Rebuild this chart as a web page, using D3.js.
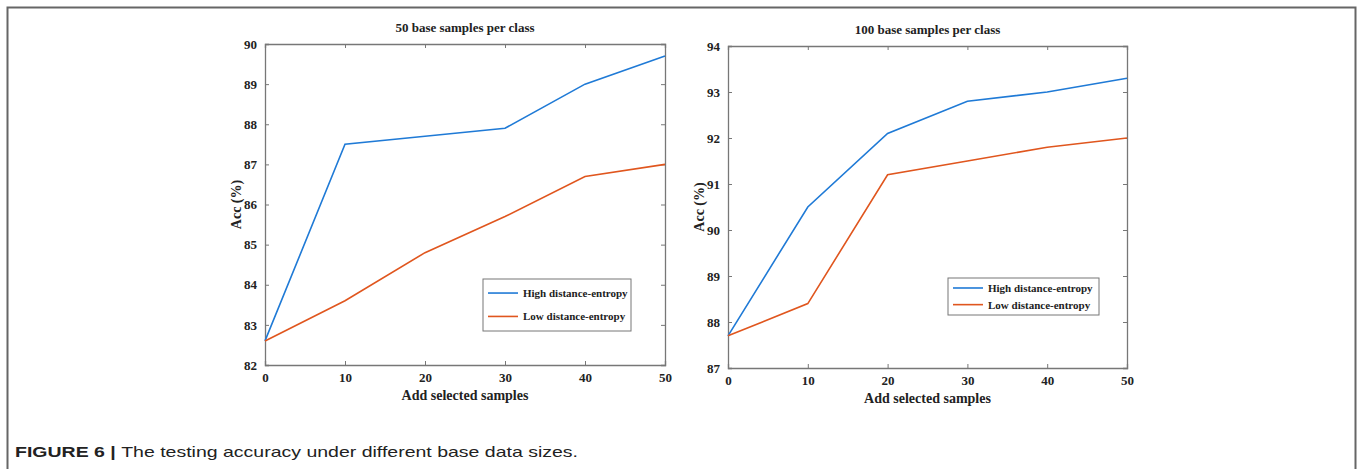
<!DOCTYPE html>
<html>
<head>
<meta charset="utf-8">
<script src="https://cdn.jsdelivr.net/npm/d3@7"></script>
<style>
  body { margin: 0; background: #fff; }
  svg text { font-family: "Liberation Serif", "Times New Roman", serif; font-weight: bold; fill: #222; }
  .caption { font-family: "Liberation Sans", Arial, sans-serif; font-weight: normal; }
</style>
</head>
<body>
<svg id="chart"></svg>
<script>
var viewWidth = 1357;
var viewHeight = 469;

// data
var addSamples = [0, 10, 20, 30, 40, 50];
var xTicks = [0, 10, 20, 30, 40, 50];

var high50 = [82.6, 87.5, 87.7, 87.9, 89.0, 89.7];
var low50 = [82.6, 83.6, 84.8, 85.7, 86.7, 87.0];
var yTicks50 = [82, 83, 84, 85, 86, 87, 88, 89, 90];

var high100 = [87.7, 90.5, 92.1, 92.8, 93.0, 93.3];
var low100 = [87.7, 88.4, 91.2, 91.5, 91.8, 92.0];
var yTicks100 = [87, 88, 89, 90, 91, 92, 93, 94];

var seriesNames = ["High distance-entropy", "Low distance-entropy"];
var seriesColors = ["#1f7ad6", "#e0561e"];

var svg = d3.select("#chart")
    .attr("width", viewWidth)
    .attr("height", viewHeight);

// figure frame
svg.append("path")
    .attr("d", "M7.5," + viewHeight + "V7.5H1355.5V" + viewHeight)
    .attr("fill", "none")
    .attr("stroke", "#666")
    .attr("stroke-width", 2);

function drawPanel(opts) {
    var g = svg.append("g")
        .attr("transform", "translate(" + opts.left + "," + opts.top + ")");
    var w = opts.width, h = opts.height;

    var xScale = d3.scaleLinear().domain([0, 50]).range([0, w]);
    var yScale = d3.scaleLinear().domain(d3.extent(opts.yTicks)).range([h, 0]);

    var tick = 4;
    var xAxis = d3.axisBottom(xScale).tickValues(xTicks).tickSize(-tick).tickPadding(8).tickFormat(d3.format("d"));
    var yAxis = d3.axisLeft(yScale).tickValues(opts.yTicks).tickSize(-tick).tickPadding(8).tickFormat(d3.format("d"));
    var xTop = d3.axisTop(xScale).tickValues(xTicks).tickSize(-tick).tickFormat("");
    var yRight = d3.axisRight(yScale).tickValues(opts.yTicks).tickSize(-tick).tickFormat("");

    var axes = [
        g.append("g").attr("transform", "translate(0," + h + ")").call(xAxis),
        g.append("g").call(yAxis),
        g.append("g").call(xTop),
        g.append("g").attr("transform", "translate(" + w + ",0)").call(yRight)
    ];
    axes.forEach(function (a) {
        a.selectAll("path.domain").attr("stroke", "#777").attr("stroke-width", 1.3);
        a.selectAll(".tick line").attr("stroke", "#777");
        a.selectAll(".tick text").style("font-size", "13px").style("font-family", "Liberation Serif").style("font-weight", "bold").attr("fill", "#222");
    });

    var line = d3.line()
        .x(function (d, i) { return xScale(addSamples[i]); })
        .y(function (d) { return yScale(d); });

    [opts.high, opts.low].forEach(function (s, i) {
        g.append("path")
            .datum(s)
            .attr("d", line)
            .attr("fill", "none")
            .attr("stroke", seriesColors[i])
            .attr("stroke-width", 1.6);
    });

    g.append("text")
        .attr("x", w / 2)
        .attr("y", -12)
        .attr("text-anchor", "middle")
        .style("font-size", "13px")
        .text(opts.title);

    g.append("text")
        .attr("x", w / 2)
        .attr("y", h + 35)
        .attr("text-anchor", "middle")
        .style("font-size", "14px")
        .text("Add selected samples");

    g.append("text")
        .attr("transform", "translate(" + (-24) + "," + (h / 2) + ") rotate(-90)")
        .attr("text-anchor", "middle")
        .style("font-size", "14px")
        .text("Acc (%)");

    // legend
    var lg = g.append("g").attr("transform", "translate(" + opts.legX + "," + opts.legY + ")");
    lg.append("rect")
        .attr("width", opts.legW)
        .attr("height", opts.legH)
        .attr("fill", "#fff")
        .attr("stroke", "#777")
        .attr("stroke-width", 1);
    seriesNames.forEach(function (name, i) {
        var yy = opts.legH * (i === 0 ? 0.27 : 0.72);
        lg.append("line")
            .attr("x1", 5).attr("x2", 35)
            .attr("y1", yy).attr("y2", yy)
            .attr("stroke", seriesColors[i])
            .attr("stroke-width", 1.6);
        lg.append("text")
            .attr("x", 40)
            .attr("y", yy + 4)
            .style("font-size", "11px")
            .text(name);
    });
}

drawPanel({
    left: 265, top: 44, width: 400, height: 321,
    yTicks: yTicks50, high: high50, low: low50,
    title: "50 base samples per class",
    legX: 218, legY: 235, legW: 148, legH: 52
});

drawPanel({
    left: 728, top: 46, width: 399, height: 322,
    yTicks: yTicks100, high: high100, low: low100,
    title: "100 base samples per class",
    legX: 220, legY: 232, legW: 151, legH: 37
});

// caption
var cap = svg.append("text")
    .attr("class", "caption")
    .attr("x", 15)
    .attr("y", 457)
    .attr("textLength", 563)
    .attr("lengthAdjust", "spacingAndGlyphs")
    .style("font-size", "15px");
cap.append("tspan").style("font-weight", "bold").text("FIGURE 6 | ");
cap.append("tspan").style("font-weight", "normal").text("The testing accuracy under different base data sizes.");
</script>
</body>
</html>
